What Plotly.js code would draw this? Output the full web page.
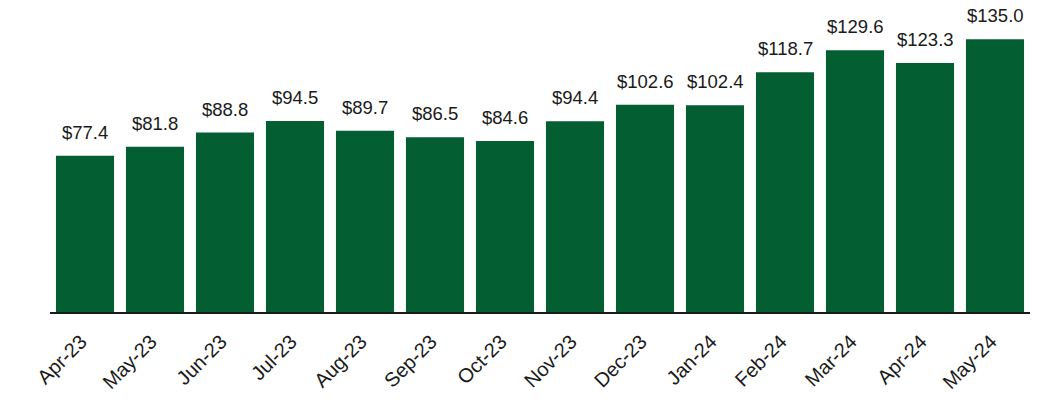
<!DOCTYPE html>
<html>
<head>
<meta charset="utf-8">
<script src="https://cdn.plot.ly/plotly-3.0.1.min.js"></script>
<style>html,body{margin:0;padding:0;background:#fff;}#chart{width:1053px;height:400px;}</style>
</head>
<body>
<div id="chart"></div>
<script>
const months = ["Apr-23","May-23","Jun-23","Jul-23","Aug-23","Sep-23","Oct-23","Nov-23","Dec-23","Jan-24","Feb-24","Mar-24","Apr-24","May-24"];
const values = [77.4, 81.8, 88.8, 94.5, 89.7, 86.5, 84.6, 94.4, 102.6, 102.4, 118.7, 129.6, 123.3, 135.0];
const labels = values.map(v => "$" + v.toFixed(1));

const trace = {
  type: "bar",
  x: months,
  y: values,
  marker: {color: "#035e31"},
  hoverinfo: "skip"
};

const annotations = months.map((m, i) => ({
  x: m, y: values[i], text: labels[i],
  xref: "x", yref: "y",
  showarrow: false, yanchor: "bottom", yshift: 11,
  font: {family: "Liberation Sans, Arial, sans-serif", size: 18.5, color: "#1a1a1a"}
}));

const layout = {
  width: 1053, height: 400,
  margin: {l: 50, r: 23, t: 9, b: 88},
  paper_bgcolor: "#fff", plot_bgcolor: "#fff",
  bargap: 0.17,
  showlegend: false,
  font: {family: "Liberation Sans, Arial, sans-serif", size: 16, color: "#1a1a1a"},
  xaxis: {
    type: "category",
    tickangle: -45,
    showline: true, linecolor: "#1a1a1a", linewidth: 2,
    showgrid: false, ticks: "",
    ticklabelstandoff: 8,
    ticklabelshift: -4,
    tickfont: {size: 20, color: "#1a1a1a"}
  },
  yaxis: {
    range: [0, 150],
    visible: false, showgrid: false, zeroline: false
  },
  annotations: annotations
};

Plotly.newPlot("chart", [trace], layout, {staticPlot: true, displayModeBar: false});
</script>
</body>
</html>
